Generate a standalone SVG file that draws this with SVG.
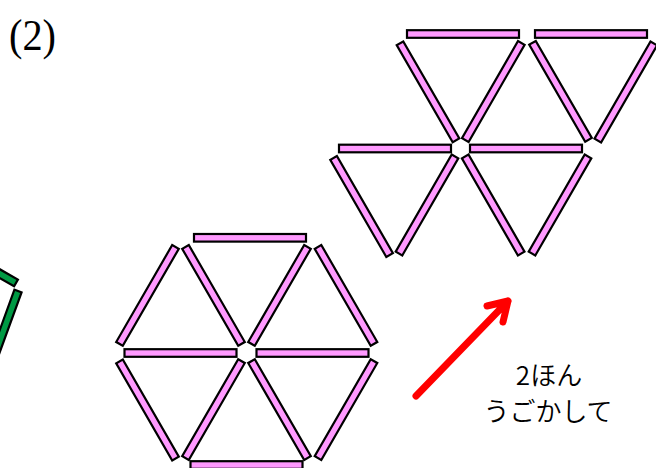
<svg xmlns="http://www.w3.org/2000/svg" xmlns:xlink="http://www.w3.org/1999/xlink" width="656" height="468" viewBox="0 0 656 468">
  <style>
    .pink { fill: #FF99FF; stroke: #000; stroke-width: 2.2; }
    .green { fill: #009944; stroke: #000; stroke-width: 2.2; }
    .lbl { font-family: "Noto Sans CJK JP", "Noto Sans", sans-serif; font-size: 26px; font-weight: 350; fill: #000; }
    .num { font-family: "Liberation Serif", "DejaVu Serif", serif; font-size: 44px; fill: #000; }
    .arrow { fill: none; stroke: #FF0000; stroke-width: 7; stroke-linecap: round; stroke-linejoin: round; }
  </style>
  <defs>
    <rect id="stick" x="-56" y="-3.8" width="112" height="7.6"/>
  </defs>
  <rect width="656" height="468" fill="#fff"/>

  <g id="label-2">
    <text class="num" x="9" y="50" textLength="47" lengthAdjust="spacingAndGlyphs">(2)</text>
  </g>

  <g id="green-partial">
    <rect class="green" x="-112" y="-3.8" width="112" height="7.6" transform="translate(16,283) rotate(30)"/>
    <rect class="green" x="0" y="-3.8" width="112" height="7.6" transform="translate(18,291) rotate(110)"/>
  </g>

  <g id="hexagon">
    <use class="pink" href="#stick" transform="translate(250,237.8)"/>
    <use class="pink" href="#stick" transform="translate(246.5,465)"/>
    <use class="pink" href="#stick" transform="translate(180.5,353)"/>
    <use class="pink" href="#stick" transform="translate(312.5,353)"/>
    <use class="pink" href="#stick" transform="translate(213.5,295.4) rotate(60)"/>
    <use class="pink" href="#stick" transform="translate(279.5,295.4) rotate(-60)"/>
    <use class="pink" href="#stick" transform="translate(213.5,409.6) rotate(-60)"/>
    <use class="pink" href="#stick" transform="translate(279.5,409.6) rotate(60)"/>
    <use class="pink" href="#stick" transform="translate(147.5,295.4) rotate(-60)"/>
    <use class="pink" href="#stick" transform="translate(346,295.4) rotate(60)"/>
    <use class="pink" href="#stick" transform="translate(147.5,410) rotate(60)"/>
    <use class="pink" href="#stick" transform="translate(346,409.6) rotate(-60)"/>
  </g>

  <g id="moved-figure">
    <use class="pink" href="#stick" transform="translate(463,34)"/>
    <use class="pink" href="#stick" transform="translate(591,34)"/>
    <use class="pink" href="#stick" transform="translate(395,148.5)"/>
    <use class="pink" href="#stick" transform="translate(526,148.5)"/>
    <use class="pink" href="#stick" transform="translate(428,91.8) rotate(60)"/>
    <use class="pink" href="#stick" transform="translate(493.3,91.5) rotate(-60)"/>
    <use class="pink" href="#stick" transform="translate(560.5,91.3) rotate(60)"/>
    <use class="pink" href="#stick" transform="translate(625.8,92) rotate(-60)"/>
    <use class="pink" href="#stick" transform="translate(361.6,206.5) rotate(60)"/>
    <use class="pink" href="#stick" transform="translate(427,205) rotate(-60)"/>
    <use class="pink" href="#stick" transform="translate(493.2,205) rotate(60)"/>
    <use class="pink" href="#stick" transform="translate(560,205) rotate(-60)"/>
  </g>

  <g id="connectors">
    <path class="arrow" d="M416,396 L508,301 M487,306 L508,301 L503,322"/>
  </g>

  <g id="caption">
    <text class="lbl" x="549" y="385" text-anchor="middle">2ほん</text>
    <text class="lbl" x="548" y="421" text-anchor="middle">うごかして</text>
  </g>
</svg>
